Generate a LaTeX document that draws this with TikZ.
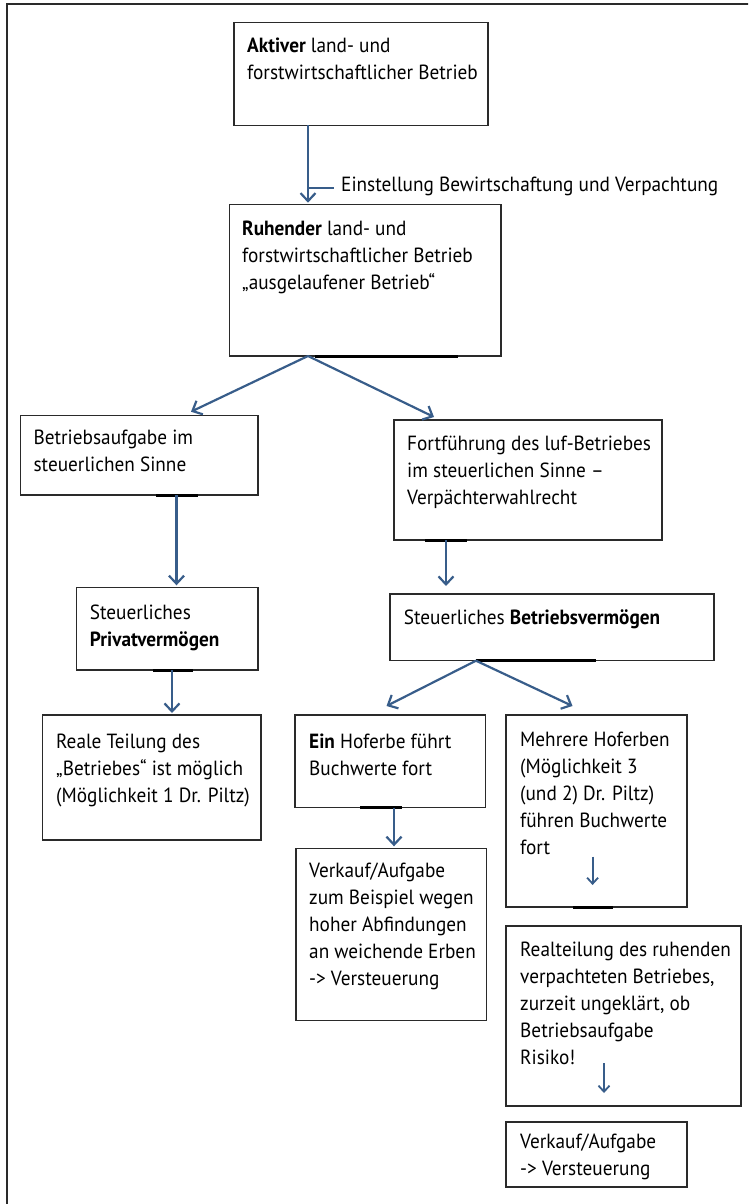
\documentclass[tikz,border=0pt]{standalone}
\usepackage{fontspec}
\setmainfont[FakeStretch=0.94]{PT Sans}
\usetikzlibrary{arrows.meta,calc}
\definecolor{arrblue}{HTML}{385D8A}
\definecolor{boxgray}{HTML}{2A2A2A}
\newcommand\fst{\rule{0pt}{20pt}}
\tikzset{
  box/.style={draw=boxgray, line width=1.3pt, anchor=north west, inner sep=0pt, outer sep=0pt},
  txt/.style={anchor=north west, inner sep=0pt, align=left, font=\fontsize{20.5}{27}\selectfont},
  arr/.style={draw=arrblue, line width=2.2pt, -{Straight Barb[length=8pt,width=15pt,line width=2.2pt]}},
  smallarr/.style={draw=arrblue, line width=1.8pt, -{Straight Barb[length=6pt,width=11pt,line width=1.8pt]}},
  bar/.style={draw=black, line width=3pt},
}
\begin{document}
\begin{tikzpicture}[x=1pt,y=-1pt]
\useasboundingbox (0,0) rectangle (748,1204);
\clip (0,0) rectangle (748,1204);
\draw[boxgray, line width=1.3pt] (7,4) rectangle (760,1215);

% boxes
\node[box, minimum width=254pt, minimum height=102.6pt] (A) at (234,22.7) {};
\node[box, minimum width=271.5pt, minimum height=151.3pt] (R) at (229.5,204.7) {};
\node[box, minimum width=237.5pt, minimum height=79.3pt] (BA) at (20.5,415.7) {};
\node[box, minimum width=268pt, minimum height=120pt] (FF) at (394,420) {};
\node[box, minimum width=181.7pt, minimum height=82.7pt] (PV) at (76.3,587.3) {};
\node[box, minimum width=324pt, minimum height=66.7pt] (BV) at (390,594) {};
\node[box, minimum width=218.5pt, minimum height=125pt] (RT) at (42.5,715) {};
\node[box, minimum width=190.7pt, minimum height=92.7pt] (EH) at (295,715) {};
\node[box, minimum width=190.6pt, minimum height=172.4pt] (VK1) at (296,848.3) {};
\node[box, minimum width=181pt, minimum height=192pt] (MH) at (506,715) {};
\node[box, minimum width=235pt, minimum height=180pt] (RE) at (506,926) {};
\node[box, minimum width=181pt, minimum height=65pt] (VK2) at (506,1122) {};

% texts
\node[txt] (tA) at (247,32.3) {\fst\textbf{Aktiver} land- und\\forstwirtschaftlicher Betrieb};
\node[txt] (tR) at (242,215) {\fst\textbf{Ruhender} land- und\\forstwirtschaftlicher Betrieb\\„ausgelaufener Betrieb“};
\node[txt] (tBA) at (33.4,424) {\fst Betriebsaufgabe im\\steuerlichen Sinne};
\node[txt] (tFF) at (407,430.7) {\fst Fortführung des luf-Betriebes\\im steuerlichen Sinne –\\Verpächterwahlrecht};
\node[txt] (tPV) at (89.7,599.3) {\fst Steuerliches\\\textbf{Privatvermögen}};
\node[txt] (tBV) at (403.6,604) {\fst Steuerliches \textbf{Betriebsvermögen}};
\node[txt] (tRT) at (56,728.3) {\fst Reale Teilung des\\„Betriebes“ ist möglich\\(Möglichkeit 1 Dr. Piltz)};
\node[txt] (tEH) at (309,728.3) {\fst\textbf{Ein} Hoferbe führt\\Buchwerte fort};
\node[txt] (tVK1) at (309,857.3) {\fst Verkauf/Aufgabe\\zum Beispiel wegen\\hoher Abfindungen\\an weichende Erben\\-> Versteuerung};
\node[txt] (tMH) at (520,726.7) {\fst Mehrere Hoferben\\(Möglichkeit 3\\(und 2) Dr. Piltz)\\führen Buchwerte\\fort};
\node[txt] (tRE) at (520,936) {\fst Realteilung des ruhenden\\verpachteten Betriebes,\\zurzeit ungeklärt, ob\\Betriebsaufgabe\\Risiko!};
\node[txt] (tVK2) at (520,1128.3) {\fst Verkauf/Aufgabe\\-> Versteuerung};
\node[anchor=base west, inner sep=0pt, font=\fontsize{20.5}{27}\selectfont] (lbl) at (341,191.7) {Einstellung Bewirtschaftung und Verpachtung};

% thick bottom bars
\draw[bar] ($(R.south west)+(85.5,0)$) -- ($(R.south west)+(228.5,0)$);
\draw[bar] ($(BA.south west)+(135.5,0)$) -- ($(BA.south west)+(177.5,0)$);
\draw[bar] ($(FF.south west)+(31,0)$) -- ($(FF.south west)+(72.6,0)$);
\draw[bar] ($(PV.south west)+(76.4,0)$) -- ($(PV.south west)+(116.7,0)$);
\draw[bar] ($(BV.south west)+(86,0)$) -- ($(BV.south west)+(206,0)$);
\draw[bar] ($(EH.south west)+(65,0)$) -- ($(EH.south west)+(107,0)$);
\draw[bar] ($(MH.south west)+(66.5,0)$) -- ($(MH.south west)+(107,0)$);

% connectors
\draw[arr] ($(A.south west)+(74,0)$) -- ($(R.north west)+(78.5,-2)$);
\coordinate (tick) at ($(A.south west)+(74,62.4)$);
\draw[draw=arrblue, line width=1.6pt] (tick) -- ($(lbl.west |- tick)+(-7,0)$);
\draw[arr] ($(R.south west)+(78.5,0)$) -- ($(BA.north west)+(170.5,-4)$);
\draw[arr] ($(R.south west)+(78.5,0)$) -- ($(FF.north west)+(40,-3)$);
\draw[arr] ($(BA.south west)+(156,0)$) -- ($(PV.north west)+(100.2,-2)$);
\draw[arr] ($(PV.south west)+(95.7,0)$) -- ($(RT.north west)+(129.5,-2)$);
\draw[arr] ($(FF.south west)+(52,0)$) -- ($(BV.north west)+(56,-8)$);
\draw[arr] ($(BV.south west)+(86,0)$) -- ($(EH.north west)+(91.5,-9)$);
\draw[arr] ($(BV.south west)+(86,0)$) -- ($(MH.north west)+(66.5,-9)$);
\draw[arr] ($(EH.south west)+(99,0)$) -- ($(VK1.north west)+(98,-2)$);
\coordinate (m1) at ($(MH.south west)+(86.6,-50.3)$);
\coordinate (m2) at ($(MH.south west)+(86.6,-22)$);
\draw[smallarr] (m1) -- (m2);
\coordinate (r1) at ($(RE.south west)+(98,-43)$);
\coordinate (r2) at ($(RE.south west)+(98,-13)$);
\draw[smallarr] (r1) -- (r2);
\end{tikzpicture}
\end{document}
